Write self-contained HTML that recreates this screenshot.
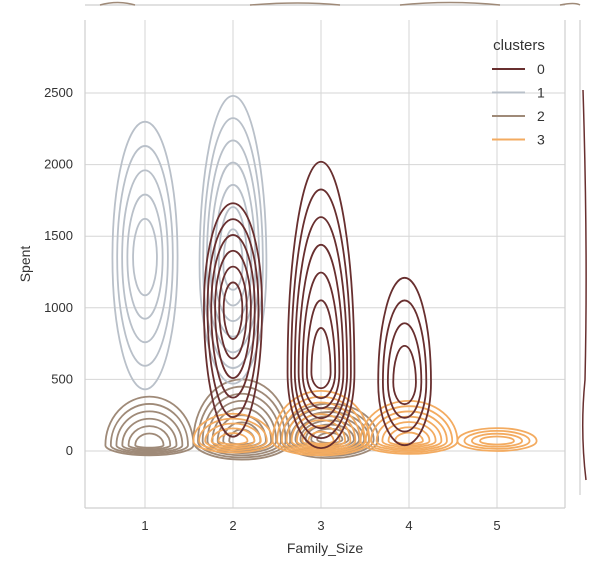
<!DOCTYPE html>
<html><head><meta charset="utf-8"><style>
body{margin:0;background:#fff;font-family:"Liberation Sans",sans-serif}
svg text{font-family:"Liberation Sans",sans-serif;fill:#333}
</style></head><body>
<svg id="c" width="592" height="565" viewBox="0 0 592 565" xmlns="http://www.w3.org/2000/svg">
<g id="grid"></g>
<g id="marks"></g>
<g id="axes"></g>
</svg>
<script>
const xTicks=[1,2,3,4,5];
const yTicks=[0,500,1000,1500,2000,2500];
const clusterNames=["0","1","2","3"];
const clusterColors=["#682F2F","#B9C0C9","#9F8A78","#F3AB60"];
// KDE blobs: cluster, family size, peak spent, upper extent, lower extent, half-width (family units), level count
const blobCluster=[1,1,0,0,0,2,2,2,3,3,3,3];
const blobFamily=[1,2,2,3,3.95,1.05,2.1,3.1,2,3,4,5];
const blobPeak=[1350,1300,1000,550,480,40,70,80,70,70,70,70];
const blobTop=[2300,2480,1730,2020,1210,380,500,330,260,420,350,160];
const blobBottom=[430,470,100,20,40,-30,-60,-50,-10,-30,-20,0];
const blobHalfWidth=[0.37,0.38,0.33,0.38,0.3,0.5,0.55,0.55,0.45,0.55,0.55,0.45];
const blobLevels=[5,7,6,7,4,6,8,8,5,8,7,4];

const X0=85,X1=565,Y0=20,Y1=508;
const xs=v=>145+(v-1)*88;
const ys=v=>451-v*0.1432;
const NS="http://www.w3.org/2000/svg";
function el(t,a,p){const e=document.createElementNS(NS,t);for(const k in a)e.setAttribute(k,a[k]);p.appendChild(e);return e;}
const grid=document.getElementById('grid'),marks=document.getElementById('marks'),axes=document.getElementById('axes');

xTicks.forEach(t=>{
 const l=el('line',{x1:xs(t),x2:xs(t),y1:Y0,y2:Y1,stroke:'#d6d6d6','stroke-width':1},grid);
 
 const tx=el('text',{x:xs(t),y:530,'font-size':13,'text-anchor':'middle'},axes);tx.textContent=t;
 
});
yTicks.forEach(t=>{
 const l=el('line',{x1:X0,x2:X1,y1:ys(t),y2:ys(t),stroke:'#d6d6d6','stroke-width':1},grid);
 
 const tx=el('text',{x:73,y:ys(t)+4,'font-size':13,'text-anchor':'end'},axes);tx.textContent=t;
 
});
[[X0,Y0,X0,Y1],[X0,Y1,X1,Y1],[X1,Y0,X1,Y1],[85,5,565,5],[580,20,580,495]].forEach(s=>{
 const l=el('line',{x1:s[0],y1:s[1],x2:s[2],y2:s[3],stroke:'#cfcfcf','stroke-width':1.2},axes);
 
});
const xl=el('text',{x:325,y:553,'font-size':14,'text-anchor':'middle'},axes);xl.textContent='Family_Size';

const yl=el('text',{x:0,y:0,'font-size':14,'text-anchor':'middle',transform:'translate(30,264) rotate(-90)'},axes);yl.textContent='Spent';


const order=[2,3,1,0];
order.forEach(c=>{
 blobCluster.forEach((bc,i)=>{
  if(bc!==c)return;
  const n=blobLevels[i],cx=xs(blobFamily[i]),cy=ys(blobPeak[i]);
  for(let k=0;k<n;k++){
   const s=1-k/(n+0.6);
   const rx=blobHalfWidth[i]*88*Math.pow(s,0.8);
   const rt=(ys(blobPeak[i])-ys(blobTop[i]))*s;
   const rb=(ys(blobBottom[i])-ys(blobPeak[i]))*s;
   const d=`M${cx-rx},${cy} A${rx},${rt} 0 0 1 ${cx+rx},${cy} A${rx},${Math.max(rb,1)} 0 0 1 ${cx-rx},${cy} Z`;
   const p=el('path',{d,fill:'none',stroke:clusterColors[c],'stroke-width':1.8},marks);
   
   
  }
 });
});
const tm=el('path',{d:'M100,5 Q118,0 135,5 M250,5 Q300,1 340,5 M400,5 Q450,0 500,5 M560,5 Q575,2 580,5',stroke:'#9F8A78','stroke-width':1.5,fill:'none'},axes);

const rm=el('path',{d:'M583,90 Q588,250 585,380 Q580,430 586,480',stroke:'#682F2F','stroke-width':1.5,fill:'none'},axes);


const lg=el('g',{},axes);
const lt=el('text',{x:519,y:50,'font-size':15,'text-anchor':'middle'},lg);lt.textContent='clusters';

clusterNames.forEach((nm,i)=>{
 const y=69+i*23.5;
 const g=el('g',{},lg);
 el('line',{x1:492,x2:525,y1:y,y2:y,stroke:clusterColors[i],'stroke-width':2},g);
 const t=el('text',{x:537,y:y+5,'font-size':14},g);t.textContent=nm;
});
</script>
</body></html>
